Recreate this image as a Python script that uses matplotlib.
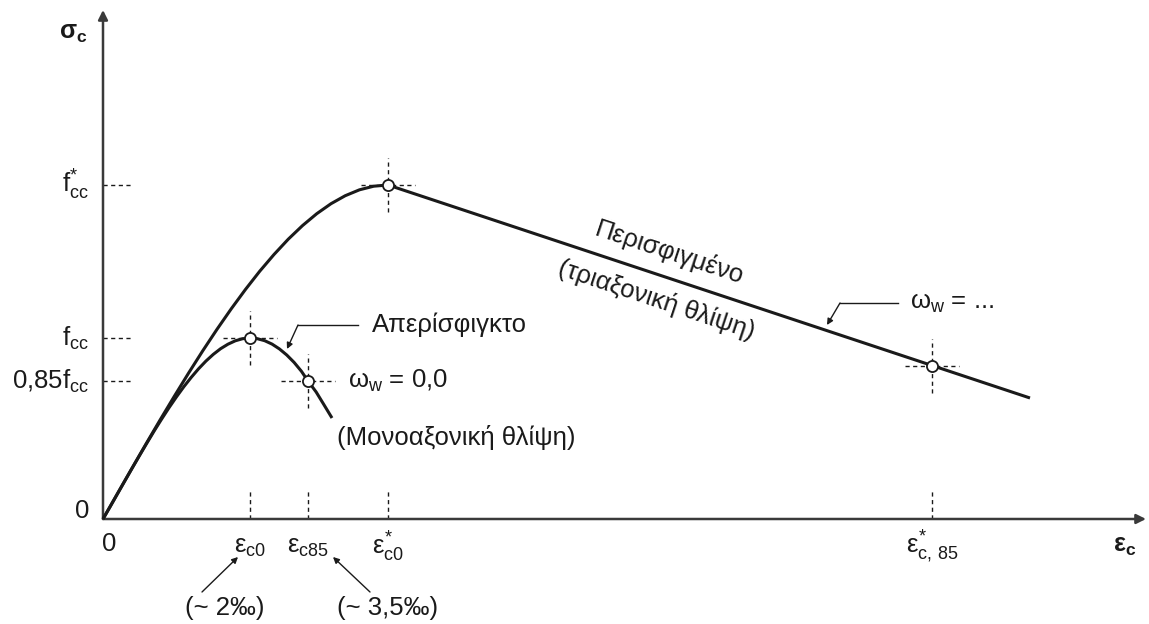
import matplotlib.pyplot as plt

plt.rcParams.update({
    'font.family': ['Liberation Sans', 'DejaVu Sans'],
    'font.size': 18.5,
    'mathtext.fontset': 'custom',
    'mathtext.rm': 'Liberation Sans',
    'mathtext.it': 'Liberation Sans',
    'mathtext.bf': 'Liberation Sans:bold',
})

INK = '#1a1a1a'
AXIS = '#3a3a3a'

# characteristic values (arbitrary, schematic units)
eps_c0 = 1.47
eps_c85 = 2.05
eps_c0_star = 2.85
eps_c85_star = 8.29
f_cc = 1.81
f_cc85 = 1.38
f_cc_star = 3.34

# unconfined concrete (uniaxial compression)
eps_unconf = [0.0, 0.0735, 0.147, 0.2205, 0.294, 0.3675, 0.441, 0.5145, 0.588, 0.6615, 0.735,
              0.8085, 0.882, 0.9555, 1.029, 1.1025, 1.176, 1.2495, 1.323, 1.3965, 1.47,
              1.5435, 1.617, 1.6905, 1.764, 1.8375, 1.911, 1.9845, 2.05, 2.1315, 2.205, 2.29]
sig_unconf = [0.0, 0.127, 0.256, 0.385, 0.513, 0.639, 0.763, 0.885, 1.002, 1.115, 1.222,
              1.323, 1.416, 1.502, 1.579, 1.646, 1.703, 1.748, 1.782, 1.803, 1.81,
              1.803, 1.783, 1.749, 1.701, 1.640, 1.566, 1.477, 1.38, 1.27, 1.15, 1.01]

# confined concrete (triaxial compression), rising branch then linear softening
eps_conf = [0.0, 0.1425, 0.285, 0.4275, 0.57, 0.7125, 0.855, 0.9975, 1.14, 1.2825, 1.425,
            1.5675, 1.71, 1.8525, 1.995, 2.1375, 2.28, 2.4225, 2.565, 2.7075, 2.85, 9.27]
sig_conf = [0.0, 0.250, 0.499, 0.746, 0.989, 1.226, 1.458, 1.682, 1.897, 2.102, 2.296,
            2.478, 2.645, 2.798, 2.934, 3.053, 3.153, 3.233, 3.292, 3.328, 3.34, 1.21]

# marked points on the curves
pt_eps = [eps_c0, eps_c85, eps_c0_star, eps_c85_star]
pt_sig = [f_cc, f_cc85, f_cc_star, 1.53]

y_levels = [f_cc_star, f_cc, f_cc85]
y_labels = [r'f$^{*}_{\rm cc}$', r'f$_{\rm cc}$', r'0,85f$_{\rm cc}$']
x_labels = [r'$ε_{\rm c0}$', r'$ε_{\rm c85}$', r'$ε^{*}_{\rm c0}$', r'$ε^{*}_{\rm c,\,85}$']

fig = plt.figure(figsize=(11.49, 6.24), dpi=100)
ax = fig.add_axes([0, 0, 1, 1])
ax.set_xlim(-1.03, 10.46)
ax.set_ylim(-1.05, 5.19)
ax.axis('off')

# axes with arrow heads
ax.annotate('', xy=(10.43, 0), xytext=(0, 0),
            arrowprops=dict(arrowstyle='-|>', color=AXIS, lw=1.8, mutation_scale=14, shrinkA=0, shrinkB=0))
ax.annotate('', xy=(0, 5.09), xytext=(0, 0),
            arrowprops=dict(arrowstyle='-|>', color=AXIS, lw=1.8, mutation_scale=14, shrinkA=0, shrinkB=0))

dash = dict(color=INK, lw=1.0, ls=(0, (3, 2.5)))

# dashed guides on the axes
for y in y_levels:
    ax.plot([0, 0.29], [y, y], **dash)
for x in pt_eps:
    ax.plot([x, x], [0, 0.29], **dash)

# dashed crosshairs around each marked point
h = 0.27
for x, y in zip(pt_eps, pt_sig):
    ax.plot([x - h, x + h], [y, y], **dash)
    ax.plot([x, x], [y - h, y + h], **dash)

# curves
ax.plot(eps_unconf, sig_unconf, color=INK, lw=2.2, solid_capstyle='butt', solid_joinstyle='round', zorder=3)
ax.plot(eps_conf, sig_conf, color=INK, lw=2.2, solid_capstyle='butt', solid_joinstyle='round', zorder=3)
ax.plot(pt_eps, pt_sig, 'o', ms=8, mfc='white', mec=INK, mew=1.3, zorder=5)

# axis titles and tick texts
ax.text(-0.30, 4.86, r'$\mathbf{σ_c}$', ha='center', va='center', fontsize=18, color=INK)
ax.text(10.22, -0.27, r'$\mathbf{ε_c}$', ha='center', va='center', fontsize=18, color=INK)
for y, lab in zip(y_levels, y_labels):
    ax.text(-0.14, y, lab, ha='right', va='center', color=INK)
ax.text(-0.14, 0.08, '0', ha='right', va='center', color=INK)
ax.text(0.06, -0.25, '0', ha='center', va='center', color=INK)
for x, lab in zip(pt_eps, x_labels):
    ax.text(x, -0.28, lab, ha='center', va='center', color=INK)

# approximate strain values
ax.text(1.22, -0.89, '(~ 2‰)', ha='center', va='center', color=INK)
ax.text(2.85, -0.89, '(~ 3,5‰)', ha='center', va='center', color=INK)
thin = dict(arrowstyle='-|>', color=INK, lw=1.0, mutation_scale=9, shrinkA=0, shrinkB=0)
ax.annotate('', xy=(1.35, -0.38), xytext=(0.99, -0.73), arrowprops=thin)
ax.annotate('', xy=(2.30, -0.38), xytext=(2.67, -0.73), arrowprops=thin)

# curve captions
ax.plot([1.95, 2.55], [1.94, 1.94], color=INK, lw=1.0)
ax.annotate('', xy=(1.84, 1.70), xytext=(1.95, 1.94), arrowprops=thin)
ax.text(2.69, 1.94, 'Απερίσφιγκτο', ha='left', va='center', color=INK)
ax.text(2.45, 1.38, r'$ω_{\rm w}$ = 0,0', ha='left', va='center', color=INK)
ax.text(2.34, 0.82, '(Μονοαξονική θλίψη)', ha='left', va='center', color=INK)

ax.plot([7.37, 7.95], [2.16, 2.16], color=INK, lw=1.0)
ax.annotate('', xy=(7.24, 1.94), xytext=(7.37, 2.16), arrowprops=thin)
ax.text(8.07, 2.16, r'$ω_{\rm w}$ = ...', ha='left', va='center', color=INK)

ax.text(5.67, 2.66, 'Περισφιγμένο', ha='center', va='center', rotation=-18.4,
        rotation_mode='anchor', color=INK)
ax.text(5.54, 2.19, '(τριαξονική θλίψη)', ha='center', va='center', rotation=-18.4,
        rotation_mode='anchor', color=INK)

fig.savefig('out.png', dpi=100)
